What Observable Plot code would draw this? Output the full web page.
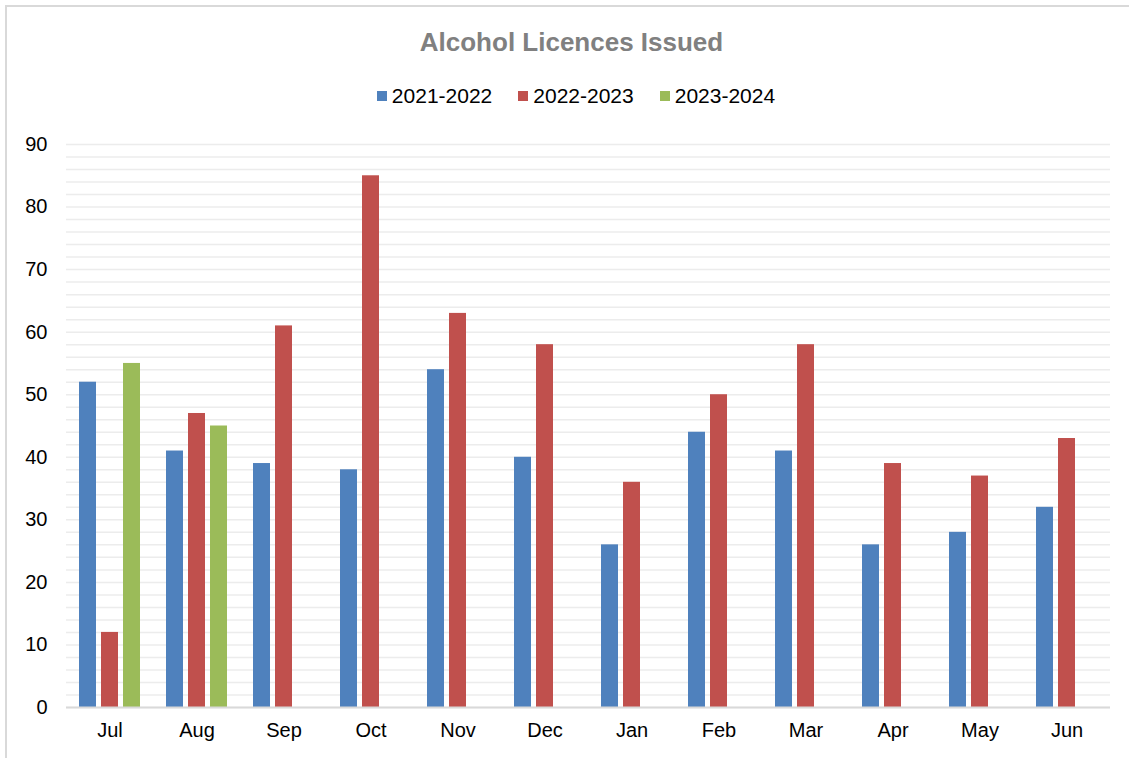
<!DOCTYPE html>
<html>
<head>
<meta charset="utf-8">
<script src="https://cdn.jsdelivr.net/npm/d3@7"></script>
<script src="https://cdn.jsdelivr.net/npm/@observablehq/plot@0.6"></script>
<style>
  html, body { margin: 0; padding: 0; background: #fff; }
  body { width: 1129px; height: 758px; position: relative; overflow: hidden; font-family: "Liberation Sans", Arial, sans-serif; }
  #frame { position: absolute; left: 5px; top: 5px; width: 1140px; height: 770px; border: 2px solid #d9d9d9; box-sizing: border-box; }
  #title { position: absolute; left: 0; top: 26px; width: 1143px; text-align: center; font-size: 26px; font-weight: bold; color: #808080; line-height: 32px; }
  #legend { position: absolute; left: 0; top: 83px; width: 1152px; display: flex; justify-content: center; gap: 26px; font-size: 21px; color: #000; line-height: 26px; }
  #legend .item { display: flex; align-items: center; }
  #legend .sw { width: 10px; height: 10px; margin-right: 5px; }
  #chart { position: absolute; left: 0; top: 110px; }
</style>
</head>
<body>
<div id="frame"></div>
<div id="title">Alcohol Licences Issued</div>
<div id="legend"></div>
<div id="chart"></div>
<script>
const months = ["Jul","Aug","Sep","Oct","Nov","Dec","Jan","Feb","Mar","Apr","May","Jun"];
const seriesNames = ["2021-2022","2022-2023","2023-2024"];
const colors = ["#4f81bd","#c0504d","#9bbb59"];
const values2122 = [52,41,39,38,54,40,26,44,41,26,28,32];
const values2223 = [12,47,61,85,63,58,36,50,58,39,37,43];
const values2324 = [55,45];
const yTicks = [0,10,20,30,40,50,60,70,80,90];
const gridTicks = d3.range(0, 91, 2);

const allSeries = [values2122, values2223, values2324];
const data = [];
allSeries.forEach((vals, si) => {
  vals.forEach((v, mi) => data.push({month: months[mi], series: seriesNames[si], value: v}));
});

const legend = document.getElementById("legend");
seriesNames.forEach((s, i) => {
  const it = document.createElement("div");
  it.className = "item";
  it.innerHTML = `<span class="sw" style="background:${colors[i]}"></span><span>${s}</span>`;
  legend.appendChild(it);
});

const chart = Plot.plot({
  width: 1129,
  height: 642,
  marginTop: 34,
  marginBottom: 45,
  marginLeft: 65,
  marginRight: 19,
  style: { fontFamily: "'Liberation Sans', Arial, sans-serif", fontSize: "20px", color: "#000", background: "transparent" },
  fx: { domain: months, paddingInner: 0, paddingOuter: 0, label: null, axis: null },
  x: { domain: seriesNames, paddingInner: 0.227, paddingOuter: 0.59, axis: null },
  y: { domain: [0, 90], label: null },
  color: { domain: seriesNames, range: colors },
  marks: [
    Plot.ruleY(gridTicks, { stroke: "#ececec", strokeWidth: 1.5 }),
    Plot.axisY({ ticks: yTicks, tickSize: 0, tickPadding: 19, label: null, fontSize: 20 }),
    Plot.axisFx({ anchor: "bottom", tickSize: 0, tickPadding: 15, label: null, fontSize: 20 }),
    Plot.barY(data, { fx: "month", x: "series", y: "value", fill: "series" }),
    Plot.ruleY([0], { stroke: "#d9d9d9", strokeWidth: 2 })
  ]
});
document.getElementById("chart").appendChild(chart);
</script>
</body>
</html>
